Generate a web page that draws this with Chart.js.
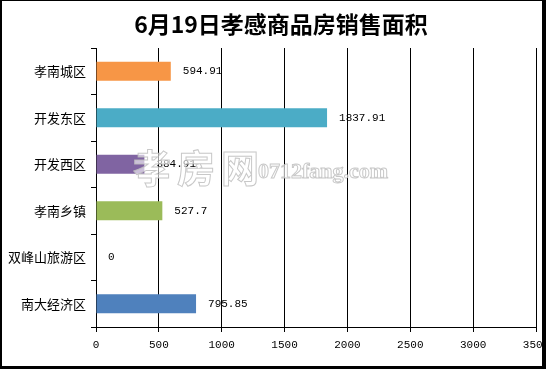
<!DOCTYPE html>
<html>
<head>
<meta charset="utf-8">
<script src="https://cdn.jsdelivr.net/npm/chart.js@4.4.1/dist/chart.umd.min.js"></script>
<style>
html,body{margin:0;padding:0;background:#fff;}
canvas{display:block;}
</style>
</head>
<body>
<canvas id="c" width="546" height="369"></canvas>
<script>
const titleText = '6月19日孝感商品房销售面积';
const categories = ['孝南城区', '开发东区', '开发西区', '孝南乡镇', '双峰山旅游区', '南大经济区'];
const values = [594.91, 1837.91, 384.91, 527.7, 0, 795.85];
const barColors = ['#F79646', '#4BACC6', '#8064A2', '#9BBB59', '#4F81BD', '#4F81BD'];
const xTicks = [0, 500, 1000, 1500, 2000, 2500, 3000, 3500];
const watermarkCn = '孝房网';
const watermarkEn = '0712fang.com';

const frame = {
  id: 'frame',
  beforeDraw(chart) {
    const ctx = chart.ctx;
    ctx.save();
    ctx.fillStyle = '#fff';
    ctx.fillRect(0, 0, chart.width, chart.height);
    ctx.restore();
  },
  afterDatasetsDraw(chart) {
    const ctx = chart.ctx;
    const meta = chart.getDatasetMeta(0);
    ctx.save();
    // data labels
    ctx.fillStyle = '#000';
    ctx.font = '11px "Liberation Mono"';
    ctx.textBaseline = 'middle';
    ctx.textAlign = 'left';
    meta.data.forEach((bar, i) => {
      ctx.fillText(String(values[i]), bar.x + 12, bar.y);
    });
    // watermark
    ctx.font = 'bold 38px "Noto Sans CJK SC"';
    ctx.textBaseline = 'alphabetic';
    ctx.lineWidth = 1;
    ctx.strokeStyle = 'rgba(190,190,190,0.85)';
    ctx.fillStyle = 'rgba(255,255,255,0.6)';
    const chars = Array.from(watermarkCn);
    chars.forEach((ch, i) => {
      const x = 133 + i * 44;
      ctx.fillText(ch, x, 182);
      ctx.strokeText(ch, x, 182);
    });
    ctx.font = 'bold 22px "Liberation Serif"';
    ctx.fillText(watermarkEn, 258, 178);
    ctx.strokeText(watermarkEn, 258, 178);
    ctx.restore();
  },
  afterDraw(chart) {
    const ctx = chart.ctx;
    ctx.save();
    // title
    ctx.fillStyle = '#000';
    ctx.font = 'bold 23px "Noto Sans CJK SC"';
    ctx.textAlign = 'center';
    ctx.textBaseline = 'middle';
    ctx.fillText(titleText, 281, 24);
    // border
    ctx.fillRect(0, 0, 2, 369);
    ctx.fillRect(0, 0, 546, 1);
    ctx.fillRect(542, 0, 4, 369);
    ctx.fillRect(0, 366, 546, 3);
    ctx.restore();
  }
};

new Chart(document.getElementById('c'), {
  type: 'bar',
  data: {
    labels: categories,
    datasets: [{
      data: values,
      backgroundColor: barColors,
      borderWidth: 0,
      barPercentage: 0.41,
      categoryPercentage: 1
    }]
  },
  options: {
    indexAxis: 'y',
    responsive: false,
    animation: false,
    devicePixelRatio: 1,
    layout: { padding: { top: 48, right: 10, left: 0, bottom: 0 } },
    plugins: { legend: { display: false }, title: { display: false }, tooltip: { enabled: false } },
    scales: {
      x: {
        min: 0, max: 3500,
        afterBuildTicks(scale) { scale.ticks = xTicks.map(v => ({ value: v })); },
        afterFit(scale) { scale.height = 42; scale.paddingLeft = 0; scale.paddingRight = 0; },
        grid: { color: '#000', lineWidth: 1, drawTicks: true, tickLength: 5 },
        border: { color: '#000', width: 1 },
        ticks: { color: '#000', font: { family: 'Liberation Mono', size: 11 }, padding: 6, maxRotation: 0, autoSkip: false,
                 callback: (v) => String(v) }
      },
      y: {
        afterFit(scale) { scale.width = 96; },
        grid: { color: '#000', drawOnChartArea: false, drawTicks: true, tickLength: 5, offset: true },
        border: { color: '#000', width: 1 },
        ticks: { color: '#000', font: { family: 'Noto Sans CJK SC', size: 13 }, padding: 5 }
      }
    }
  },
  plugins: [frame]
});
</script>
</body>
</html>
